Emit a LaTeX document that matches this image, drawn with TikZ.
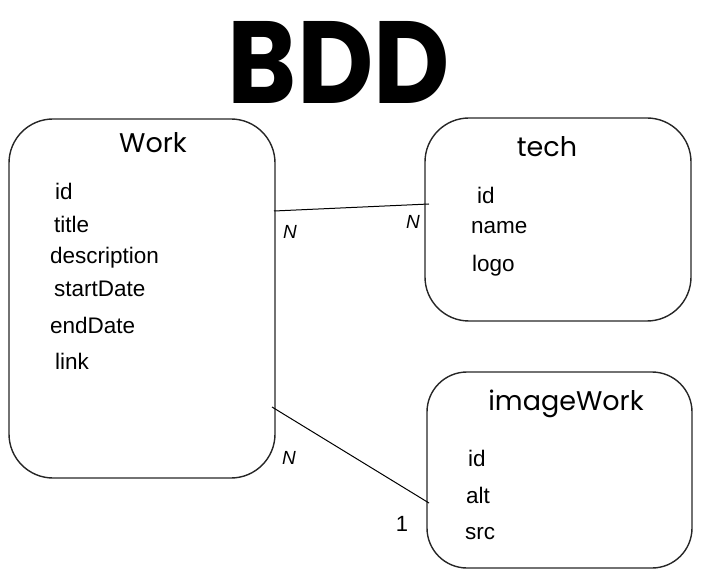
\documentclass[tikz,border=0pt]{standalone}
\usepackage{fontspec}
\setmainfont{Liberation Sans}
\newfontfamily\titlefont{Poppins}
\usetikzlibrary{positioning}
\begin{document}
\begin{tikzpicture}[x=1pt,y=-1pt,
  entity/.style={draw=black!85, line width=1.4pt, rounded corners=44pt},
  attr/.style={anchor=west, inner sep=0pt, font=\fontsize{22.5}{22.5}\selectfont},
  ename/.style={inner sep=0pt, font=\titlefont\fontsize{27}{27}\selectfont},
  card/.style={inner sep=0pt, font=\fontsize{19}{19}\selectfont\itshape},
  rel/.style={draw=black, line width=1pt}]
\useasboundingbox (0,0) rectangle (701,577);
\node[inner sep=0pt] (title) at (339,62) {\resizebox{222pt}{82pt}{\titlefont\bfseries BDD}};
% boxes
\draw[entity] (9,119) rectangle (275,478);
\draw[entity] (425,118) rectangle (691,321);
\draw[entity, rounded corners=40pt] (427,372) rectangle (692,568);
\node[ename] (workT) at (153,143) {Work};
\node[ename] (techT) at (547,147) {tech};
\node[ename] (imgT) at (566,404) {imageWork};
% attributes
\node[attr] (w1) at (55,191) {id};
\node[attr] (w2) at (54,224) {title};
\node[attr] (w3) at (50,258) {description};
\node[attr] (w4) at (54,289) {startDate};
\node[attr] (w5) at (50,325) {endDate};
\node[attr] (w6) at (55,361) {link};
\node[attr] (t1) at (477,195) {id};
\node[attr] (t2) at (471,228) {name};
\node[attr] (t3) at (472,266) {logo};
\node[attr] (i1) at (468,458) {id};
\node[attr] (i2) at (466,495) {alt};
\node[attr] (i3) at (465,534) {src};
% relation endpoints
\coordinate (a1) at (274,211);
\coordinate (b1) at (429,204);
\coordinate (a2) at (272,407);
\coordinate (b2) at (429,503);
\draw[rel] (a1) -- (b1);
\draw[rel] (a2) -- (b2);
\node[card] (n1) at (290,232) {N};
\node[card] (n2) at (413,222) {N};
\node[card] (n3) at (289,458) {N};
\node[inner sep=0pt, font=\fontsize{22}{22}\selectfont] (one) at (402,524) {1};
\end{tikzpicture}
\end{document}
